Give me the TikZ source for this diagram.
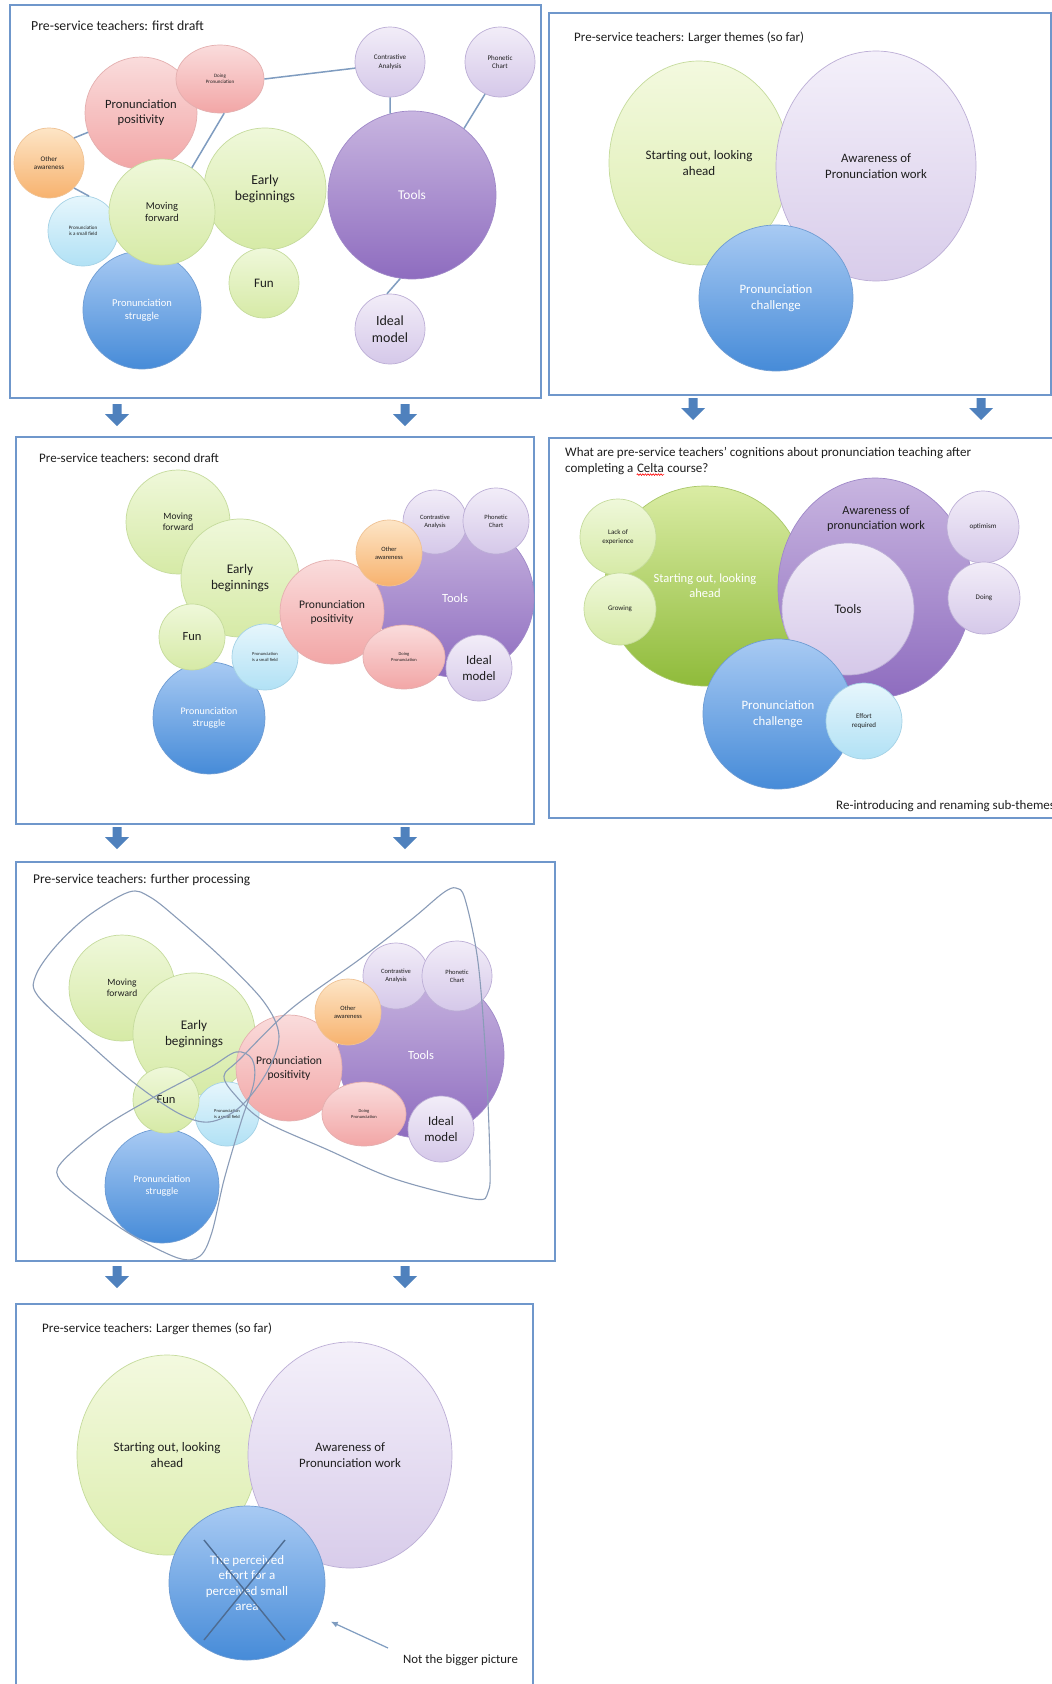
\documentclass[tikz,border=0pt]{standalone}
\usepackage{fontspec}
\setmainfont{Carlito}
\usetikzlibrary{shapes.geometric,arrows.meta,decorations.pathmorphing}
\definecolor{frameC}{HTML}{6F97CB}
\definecolor{arrC}{HTML}{4F81BD}
\definecolor{lineC}{HTML}{7F9CC0}
\definecolor{grpC}{HTML}{8A9CB8}
\definecolor{crossC}{HTML}{4E6C92}
\definecolor{txtC}{HTML}{1E1E1E}
\definecolor{pinkT}{HTML}{FADCDC}\definecolor{pinkB}{HTML}{F2A6A6}\definecolor{pinkD}{HTML}{E4AFAF}
\definecolor{grT}{HTML}{EFF8DA}\definecolor{grB}{HTML}{D6EAA6}\definecolor{grD}{HTML}{C5DB9C}
\definecolor{gsT}{HTML}{DAECA4}\definecolor{gsB}{HTML}{8FBB3A}\definecolor{gsD}{HTML}{A9C869}
\definecolor{puT}{HTML}{C8B5E0}\definecolor{puB}{HTML}{8E6CBF}\definecolor{puD}{HTML}{9F88C8}
\definecolor{lpT}{HTML}{F2EDF8}\definecolor{lpB}{HTML}{D5C8E9}\definecolor{lpD}{HTML}{BCAED6}
\definecolor{orT}{HTML}{FDE5C6}\definecolor{orB}{HTML}{F7B26E}\definecolor{orD}{HTML}{EFC294}
\definecolor{lbT}{HTML}{E6F6FC}\definecolor{lbB}{HTML}{B1E1F5}\definecolor{lbD}{HTML}{A5D2E6}
\definecolor{blT}{HTML}{A8CAF3}\definecolor{blB}{HTML}{468BD8}\definecolor{blD}{HTML}{6E9CD3}
\definecolor{sgT}{HTML}{F3F9DF}\definecolor{sgB}{HTML}{DDEEAF}
\definecolor{spT}{HTML}{F4F0FA}\definecolor{spB}{HTML}{D8CCEA}
\newcommand\fsz[1]{\fontsize{#1pt}{\dimexpr #1pt*6/5\relax}\selectfont}
\tikzset{
  bub/.style={circle, inner sep=0pt, align=center, line width=0.7pt, text=txtC, minimum size=#1},
  ell/.style={ellipse, inner sep=0pt, align=center, line width=0.7pt, text=txtC},
  pinkf/.style={draw=pinkD, top color=pinkT, bottom color=pinkB},
  grf/.style={draw=grD, top color=grT, bottom color=grB},
  gsf/.style={draw=gsD, top color=gsT, bottom color=gsB},
  puf/.style={draw=puD, top color=puT, bottom color=puB},
  lpf/.style={draw=lpD, top color=lpT, bottom color=lpB},
  orf/.style={draw=orD, top color=orT, bottom color=orB},
  lbf/.style={draw=lbD, top color=lbT, bottom color=lbB},
  blf/.style={draw=blD, top color=blT, bottom color=blB},
  sgf/.style={draw=grD, top color=sgT, bottom color=sgB},
  spf/.style={draw=lpD, top color=spT, bottom color=spB},
  panel/.style={draw=frameC, line width=1.8pt},
  conn/.style={draw=lineC, line width=1.5pt},
  grpline/.style={draw=grpC, line width=1.1pt},
  xline/.style={draw=crossC, line width=1.4pt},
  ttl/.style={inner sep=0pt, text=txtC, font=\fsz{13}},
  downarr/.pic={\fill[arrC] (-4.5,0) -- (4.5,0) -- (4.5,10) -- (12,10) -- (0,22) -- (-12,10) -- (-4.5,10) -- cycle;}
}
\begin{document}
\begin{tikzpicture}[x=1pt,y=-1pt]
\useasboundingbox (0,0) rectangle (1052,1684);
\fill[white] (0,0) rectangle (1052,1684);
% ---------- frames ----------
\draw[panel] (10,5) rectangle (541,398);
\draw[panel] (549,13) rectangle (1051,395);
\draw[panel] (16,437) rectangle (534,824);
\draw[panel] (549,438) rectangle (1070,818);
\draw[panel] (16,862) rectangle (555,1261);
\draw[panel] (16,1304) rectangle (533,1700);
% ---------- arrows ----------
\pic at (117,404) {downarr};
\pic at (405,404) {downarr};
\pic at (693,398) {downarr};
\pic at (981,398) {downarr};
\pic at (117,827) {downarr};
\pic at (405,827) {downarr};
\pic at (117,1266) {downarr};
\pic at (405,1266) {downarr};

% ================= Panel 1: first draft =================
\node[ttl, anchor=base west, font=\fsz{13.8}] (t1) at (31,30) {Pre-service teachers: first draft};
\node[bub=118, blf, text=white, font=\fsz{10.5}] (s1) at (142,310) {Pronunciation\\struggle};
\node[bub=70, lbf, font=\fsz{5}] (f1) at (83,231) {Pronunciation\\is a small field};
\node[bub=112, pinkf, font=\fsz{12.6}] (p1) at (141,113) {Pronunciation\\positivity};
\node[bub=70, orf, font=\fsz{7}] (o1) at (49,163) {Other\\awareness};
\node[ell, pinkf, minimum width=88, minimum height=68, font=\fsz{5}] (d1) at (220,79) {Doing\\Pronunciation};
\node[bub=122, grf, font=\fsz{13.7}] (e1) at (265,189) {Early\\beginnings};
\node[bub=106, grf, font=\fsz{10.5}] (m1) at (162,212) {Moving\\forward};
\node[bub=70, grf, font=\fsz{13}] (fu1) at (264,283) {Fun};
\node[bub=168, puf, text=white, font=\fsz{13.4}] (to1) at (412,195) {Tools};
\node[bub=70, lpf, font=\fsz{7}] (c1) at (390,62) {Contrastive\\Analysis};
\node[bub=70, lpf, font=\fsz{7}] (ph1) at (500,62) {Phonetic\\Chart};
\node[bub=70, lpf, font=\fsz{14}] (i1) at (390,329) {Ideal\\model};
\draw[conn] (p1.200) -- (o1.45);
\draw[conn] (o1.-45) -- (f1.80);
\draw[conn] (d1.east) -- (c1.190);
\draw[conn] (d1.-83) -- (m1.56);
\draw[conn] (c1.-90) -- (to1.105);
\draw[conn] (ph1.-115) -- (to1.52);
\draw[conn] (to1.-98) -- (i1.95);

% ================= Panel 2: larger themes =================
\node[ttl, anchor=base west] (t2) at (574,41) {Pre-service teachers: Larger themes (so far)};
\node[ell, sgf, minimum width=180, minimum height=204, font=\fsz{13}] (st2) at (699,163) {Starting out, looking\\ahead};
\node[ell, spf, minimum width=200, minimum height=230, font=\fsz{12.8}] (aw2) at (876,166) {Awareness of\\Pronunciation work};
\node[ell, blf, minimum width=154, minimum height=146, text=white, font=\fsz{12.8}] (ch2) at (776,298) {Pronunciation\\challenge};

% ================= Panel 3: second draft =================
\node[ttl, anchor=base west] (t3) at (39,462) {Pre-service teachers: second draft};
\node[bub=158, puf, text=white, font=\fsz{12.5}] (to3) at (455,598) {Tools};
\node[bub=104, grf, font=\fsz{9.5}] (m3) at (178,522) {Moving\\forward};
\node[bub=118, grf, font=\fsz{13.2}] (e3) at (240,578) {Early\\beginnings};
\node[bub=112, blf, text=white, font=\fsz{10}] (s3) at (209,718) {Pronunciation\\struggle};
\node[bub=66, grf, font=\fsz{12.5}] (fu3) at (192,637) {Fun};
\node[bub=66, lbf, font=\fsz{4.5}] (f3) at (265,657) {Pronunciation\\is a small field};
\node[bub=104, pinkf, font=\fsz{11.6}] (p3) at (332,612) {Pronunciation\\positivity};
\node[bub=64, lpf, font=\fsz{6.5}] (c3) at (435,522) {Contrastive\\Analysis};
\node[bub=66, lpf, font=\fsz{6.5}] (ph3) at (496,521) {Phonetic\\Chart};
\node[bub=66, orf, font=\fsz{6.5}] (o3) at (389,553) {Other\\awareness};
\node[ell, pinkf, minimum width=82, minimum height=64, font=\fsz{4.5}] (d3) at (404,657) {Doing\\Pronunciation};
\node[bub=66, lpf, font=\fsz{12.9}] (i3) at (479,668) {Ideal\\model};

% ================= Panel 4: Celta =================
\node[ttl, anchor=base west] (q1) at (565,456) {What are pre-service teachers’ cognitions about pronunciation teaching after};
\node[ttl, anchor=base west] (q2) at (565,472) {completing a};
\node[ttl, anchor=base west] (q3) at ([xshift=3.2pt]q2.base east) {Celta};
\node[ttl, anchor=base west] (q4) at ([xshift=3.2pt]q3.base east) {course?};
\draw[red, line width=0.6pt, decorate, decoration={snake, amplitude=0.8pt, segment length=2.6pt}] ([yshift=-2.6pt]q3.base west) -- ([yshift=-2.6pt]q3.base east);
\node[bub=200, gsf, text=white, font=\fsz{12.5}] (st4) at (705,586) {Starting out, looking\\ahead};
\node[bub=76, grf, font=\fsz{7}] (la4) at (618,537) {Lack of\\experience};
\node[bub=72, grf, font=\fsz{7}] (gr4) at (620,609) {Growing};
\node[ell, puf, minimum width=194, minimum height=220] (aw4) at (875,588) {};
\node[inner sep=0pt, align=center, text=txtC, font=\fsz{12.3}] (aw4t) at (876,519) {Awareness of\\pronunciation work};
\node[bub=132, lpf, font=\fsz{13}] (to4) at (848,609) {Tools};
\node[bub=72, lpf, font=\fsz{7}] (op4) at (983,527) {optimism};
\node[bub=72, lpf, font=\fsz{7}] (do4) at (984,598) {Doing};
\node[bub=150, blf, text=white, font=\fsz{12.8}] (ch4) at (778,714) {Pronunciation\\challenge};
\node[bub=76, lbf, font=\fsz{7}] (ef4) at (864,721) {Effort\\required};
\node[ttl, anchor=base west] (re4) at (836,809) {Re-introducing and renaming sub-themes};

% ================= Panel 5: further processing =================
\node[ttl, anchor=base west, font=\fsz{13.4}] (t5) at (33,883) {Pre-service teachers: further processing};
\node[bub=166, puf, text=white, font=\fsz{12.5}] (to5) at (421,1055) {Tools};
\node[bub=106, grf, font=\fsz{9.5}] (m5) at (122,988) {Moving\\forward};
\node[bub=122, grf, font=\fsz{13.2}] (e5) at (194,1034) {Early\\beginnings};
\node[bub=114, blf, text=white, font=\fsz{10}] (s5) at (162,1186) {Pronunciation\\struggle};
\node[bub=64, lbf, font=\fsz{4.5}] (f5) at (227,1114) {Pronunciation\\is a small field};
\node[bub=66, grf, font=\fsz{12.5}] (fu5) at (166,1100) {Fun};
\node[bub=106, pinkf, font=\fsz{11.6}] (p5) at (289,1068) {Pronunciation\\positivity};
\node[bub=66, lpf, font=\fsz{6.5}] (c5) at (396,976) {Contrastive\\Analysis};
\node[bub=70, lpf, font=\fsz{6.5}] (ph5) at (457,976) {Phonetic\\Chart};
\node[bub=66, orf, font=\fsz{6.5}] (o5) at (348,1012) {Other\\awareness};
\node[ell, pinkf, minimum width=84, minimum height=64, font=\fsz{4.5}] (d5) at (364,1114) {Doing\\Pronunciation};
\node[bub=66, lpf, font=\fsz{12.9}] (i5) at (441,1129) {Ideal\\model};
% grouping outlines
\draw[grpline] plot[smooth cycle, tension=0.55] coordinates {(129,892) (88,916) (56,946) (36,975) (38,996) (85,1040) (133,1082) (178,1113) (209,1122) (240,1107) (267,1072) (279,1036) (264,1002) (223,959) (178,919) (150,897)};
\draw[grpline] plot[smooth cycle, tension=0.55] coordinates {(61,1163) (102,1128) (154,1097) (209,1068) (236,1052) (252,1059) (254,1082) (241,1122) (224,1180) (212,1232) (200,1256) (178,1258) (130,1234) (85,1202) (60,1180)};
\draw[grpline] plot[smooth cycle, tension=0.55] coordinates {(224,1076) (240,1059) (291,1009) (360,959) (412,919) (443,893) (456,888) (465,899) (478,962) (486,1062) (490,1163) (488,1192) (474,1199) (395,1179) (326,1149) (264,1121) (236,1096)};

% ================= Panel 6: larger themes =================
\node[ttl, anchor=base west] (t6) at (42,1332) {Pre-service teachers: Larger themes (so far)};
\node[ell, sgf, minimum width=180, minimum height=200, font=\fsz{13}] (st6) at (167,1455) {Starting out, looking\\ahead};
\node[ell, spf, minimum width=204, minimum height=226, font=\fsz{12.8}] (aw6) at (350,1455) {Awareness of\\Pronunciation work};
\node[ell, blf, minimum width=156, minimum height=154, text=white, font=\fsz{13}] (ef6) at (247,1583) {The perceived\\effort for a\\perceived small\\area};
\draw[xline] (204,1540) -- (285,1640);
\draw[xline] (285,1540) -- (204,1640);
\node[ttl, anchor=base west, font=\fsz{12.8}] (nb6) at (403,1663) {Not the bigger picture};
\coordinate (nbtail) at (388,1648);
\draw[draw=lineC, line width=1.2pt, -{Latex[length=7pt,width=6pt]}, shorten >=14pt] (nbtail) -- (ef6);
\end{tikzpicture}
\end{document}
